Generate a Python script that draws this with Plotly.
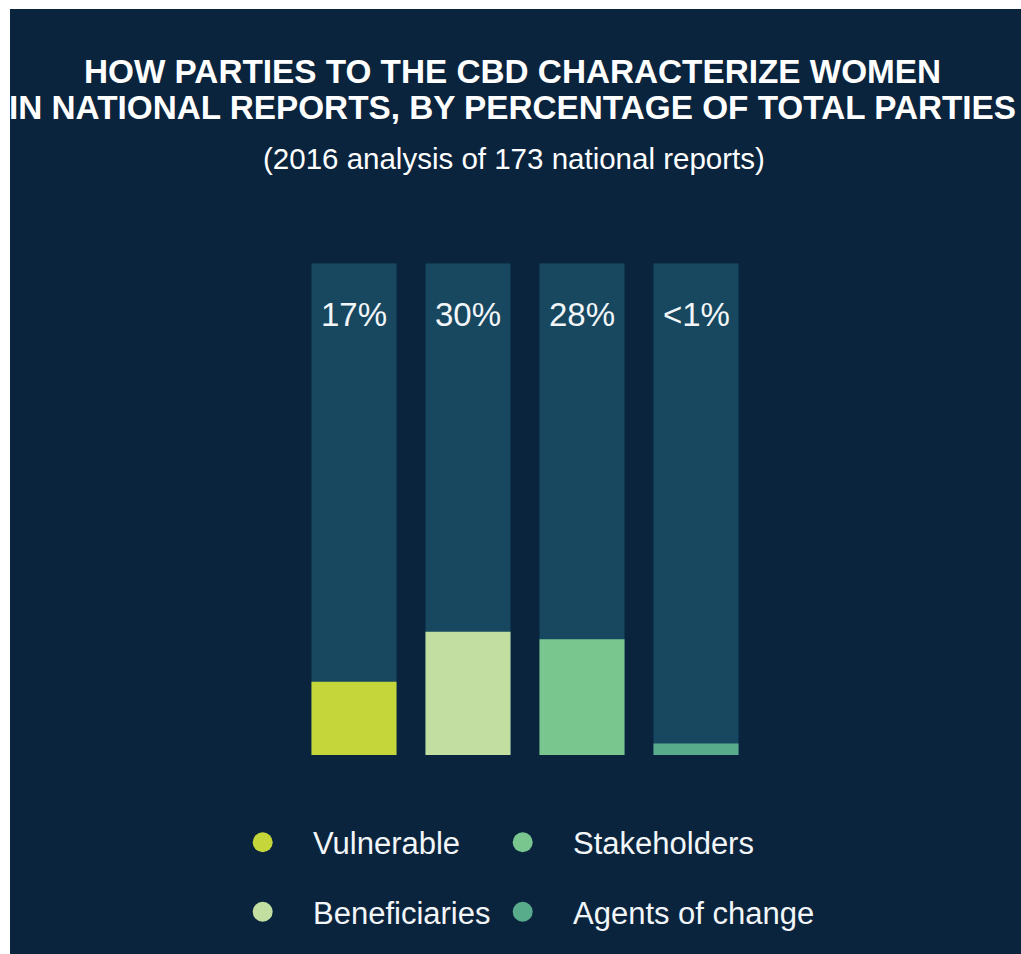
import plotly.graph_objects as go

# ---- data ----
CATEGORIES = ["Vulnerable", "Beneficiaries", "Stakeholders", "Agents of change"]
VALUES = [17.7, 29.8, 28.0, 2.8]          # bar heights as drawn (percent scale)
LABELS = ["17%", "30%", "28%", "<1%"]
TRACK = [119, 119, 119, 119]               # background track height on same scale

TITLE_1 = "HOW PARTIES TO THE CBD CHARACTERIZE WOMEN"
TITLE_2 = "IN NATIONAL REPORTS, BY PERCENTAGE OF TOTAL PARTIES"
SUBTITLE = "(2016 analysis of 173 national reports)"

# ---- styles ----
COLORS = ["#c4d63a", "#c2dea0", "#7ac68f", "#58ac8c"]
BG = "#0a243e"
TRACK_COLOR = "#184860"
TEXT = "#f2f6f8"
W, H = 1021, 954
SANS = "Liberation Sans, Arial, Helvetica, sans-serif"


def px(x):
    """page pixel x -> paper fraction"""
    return x / W


def py(y):
    """page pixel y -> paper fraction"""
    return 1 - y / H


fig = go.Figure()

fig.add_trace(go.Bar(x=CATEGORIES, y=TRACK, marker=dict(color=TRACK_COLOR, line=dict(width=0)),
                     hoverinfo="skip", showlegend=False))
fig.add_trace(go.Bar(x=CATEGORIES, y=VALUES, marker=dict(color=COLORS, line=dict(width=0)),
                     showlegend=False, hovertemplate="%{x}<extra></extra>"))

# legend markers on a page-pixel helper axis
LEG_COL_X = [262.7, 522.7]
LEG_ROW_Y = [842.3, 911.7]
leg_x = [LEG_COL_X[i // 2] for i in range(len(CATEGORIES))]
leg_y = [LEG_ROW_Y[i % 2] for i in range(len(CATEGORIES))]
fig.add_trace(go.Scatter(x=leg_x, y=leg_y, mode="markers", xaxis="x2", yaxis="y2",
                         marker=dict(size=20, color=COLORS, line=dict(width=0)),
                         hoverinfo="skip", showlegend=False))

annotations = []
for cat, lab in zip(CATEGORIES, LABELS):
    annotations.append(dict(x=cat, xref="x", y=0.895, yref="y domain", text=lab,
                            showarrow=False, font=dict(family=SANS, size=33, color=TEXT),
                            xanchor="center", yanchor="middle"))
for i, cat in enumerate(CATEGORIES):
    annotations.append(dict(x=leg_x[i] + 48, xref="x2", y=leg_y[i] + 1.5, yref="y2", text=cat,
                            showarrow=False, font=dict(family=SANS, size=31, color=TEXT),
                            xanchor="left", yanchor="middle"))

annotations += [
    dict(x=px(512), y=py(72), xref="paper", yref="paper", text="<b>" + TITLE_1 + "</b>",
         showarrow=False, font=dict(family=SANS, size=33.3, color="white"),
         xanchor="center", yanchor="middle"),
    dict(x=px(512), y=py(108), xref="paper", yref="paper", text="<b>" + TITLE_2 + "</b>",
         showarrow=False, font=dict(family=SANS, size=33.3, color="white"),
         xanchor="center", yanchor="middle"),
    dict(x=px(514), y=py(158), xref="paper", yref="paper", text=SUBTITLE,
         showarrow=False, font=dict(family=SANS, size=29.5, color="white"),
         xanchor="center", yanchor="middle"),
]

fig.update_layout(
    width=W, height=H,
    margin=dict(l=0, r=0, t=0, b=0),
    paper_bgcolor="white",
    plot_bgcolor="rgba(0,0,0,0)",
    barmode="overlay",
    bargap=0.254,
    xaxis=dict(domain=[px(297), px(753)], visible=False, categoryorder="array",
               categoryarray=CATEGORIES, fixedrange=True),
    yaxis=dict(domain=[py(755), py(263.3)], range=[0, 119], visible=False, fixedrange=True),
    xaxis2=dict(domain=[0, 1], range=[0, W], visible=False, anchor="y2", fixedrange=True),
    yaxis2=dict(domain=[0, 1], range=[H, 0], visible=False, anchor="x2", fixedrange=True),
    shapes=[dict(type="rect", xref="paper", yref="paper", x0=px(10), x1=1, y0=0, y1=py(9),
                 fillcolor=BG, line=dict(width=0), layer="below")],
    annotations=annotations,
    showlegend=False,
)

fig.write_html("out.html",
               config={"displayModeBar": False},
               post_script="document.body.style.margin='0';document.body.style.overflow='hidden';")
